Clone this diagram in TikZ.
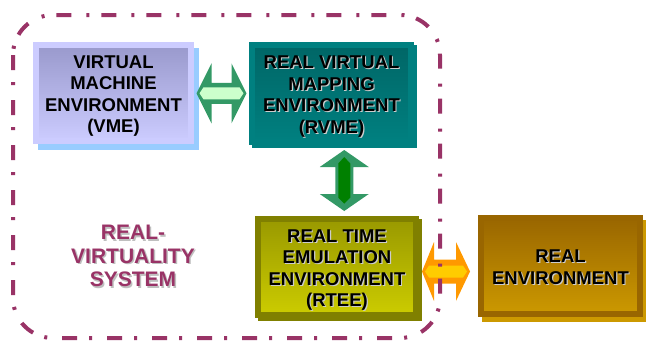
\documentclass[tikz,border=0pt]{standalone}
\usepackage{fontspec}
\setmainfont{Liberation Sans}
\usetikzlibrary{calc,shadows}
\definecolor{rvsline}{HTML}{993366}
\definecolor{vmeline}{HTML}{CCCCFF}
\definecolor{vmetop}{HTML}{9999CC}
\definecolor{vmeshadow}{HTML}{99CCFF}
\definecolor{rvmeline}{HTML}{008080}
\definecolor{rvmetop}{HTML}{006666}
\definecolor{rteeline}{HTML}{808000}
\definecolor{rteetop}{HTML}{999900}
\definecolor{rteebot}{HTML}{CCCC00}
\definecolor{realline}{HTML}{996600}
\definecolor{realbot}{HTML}{CC9900}
\definecolor{arrgreen}{HTML}{339966}
\definecolor{arrlight}{HTML}{CCFFCC}
\definecolor{arrdark}{HTML}{008000}
\definecolor{arrorange}{HTML}{FF9900}
\definecolor{arryellow}{HTML}{FFCC00}
\begin{document}
\begin{tikzpicture}[x=1pt,y=-1pt,line join=round,
  box/.style={rectangle,inner sep=0pt,line width=6pt,line join=miter},
  boxtext/.style={inner sep=0pt,align=center,
    font=\bfseries\fontsize{18.5}{21.5}\selectfont},
  boxshade/.style={boxtext,text=black!20},
  sysfont/.style={inner sep=0pt,align=center,
    font=\bfseries\fontsize{21}{23.5}\selectfont}]
\useasboundingbox (0,0) rectangle (646,341);

% the four environments
\node[box,minimum width=155pt,minimum height=96pt,draw=vmeline,
  top color=vmetop,bottom color=vmeline,
  drop shadow={shadow xshift=5pt,shadow yshift=-6pt,fill=vmeshadow,
    draw=vmeshadow,line width=6pt,line join=miter,opacity=1}]
  (vme) at (113.5,93) {};
\node[box,minimum width=159pt,minimum height=97pt,draw=rvmeline,
  top color=rvmetop,bottom color=rvmeline,
  drop shadow={shadow xshift=3pt,shadow yshift=-3pt,fill=rvmeline,
    draw=rvmeline,line width=6pt,line join=miter,opacity=1}]
  (rvme) at (331.5,93.5) {};
\node[box,minimum width=158pt,minimum height=96pt,draw=rteeline,
  top color=rteetop,bottom color=rteebot,
  drop shadow={shadow xshift=3pt,shadow yshift=-3pt,fill=rteeline,
    draw=rteeline,line width=6pt,line join=miter,opacity=1}]
  (rtee) at (337,267) {};
\node[box,minimum width=159pt,minimum height=96pt,draw=realline,
  top color=realline,bottom color=realbot,
  drop shadow={shadow xshift=4pt,shadow yshift=-5pt,fill=realbot,
    draw=realbot,line width=6pt,line join=miter,opacity=1}]
  (real) at (560.5,266) {};

\node[boxtext] (vmetext) at ([shift={(0,3)}]vme.center) {VIRTUAL\\MACHINE\\ENVIRONMENT\\(VME)};
\node[boxshade] (rvmeshade) at ([shift={(1.2,4.2)}]rvme.center) {REAL VIRTUAL\\MAPPING\\ENVIRONMENT\\(RVME)};
\node[boxtext] (rvmetext) at ([shift={(0,3)}]rvme.center) {REAL VIRTUAL\\MAPPING\\ENVIRONMENT\\(RVME)};
\node[boxshade] (rteeshade) at ([shift={(1.2,4.2)}]rtee.center) {REAL TIME\\EMULATION\\ENVIRONMENT\\(RTEE)};
\node[boxtext] (rteetext) at ([shift={(0,3)}]rtee.center) {REAL TIME\\EMULATION\\ENVIRONMENT\\(RTEE)};
\node[boxshade] (realshade) at ([shift={(1.2,2.2)}]real.center) {REAL\\ENVIRONMENT};
\node[boxtext] (realtext) at ([shift={(0,1)}]real.center) {REAL\\ENVIRONMENT};

% fat double arrows between the boxes
\coordinate (vr) at ($(vme.east)!.5!(rvme.west)$);
\coordinate (rr) at ($(rvme.south)!.5!(rtee.north)+(10,0)$);
\coordinate (tr) at ($(rtee.east)!.5!(real.west)+(-2.5,5)$);

\fill[arrgreen,shift={(vr)}] (-25,0)--(-10,-30)--(-10,-10.5)--(10,-10.5)--(10,-30)
  --(25,0)--(10,30)--(10,10.5)--(-10,10.5)--(-10,30)--cycle;
\fill[arrlight,shift={(vr)}] (-22,0)--(-18,-6)--(18,-6)--(22,0)--(18,6)--(-18,6)--cycle;

\fill[arrgreen,shift={(rr)}] (0,-30.5)--(24.5,-13.5)--(9,-13.5)--(9,13.5)--(24.5,13.5)
  --(0,30.5)--(-24.5,13.5)--(-9,13.5)--(-9,-13.5)--(-24.5,-13.5)--cycle;
\fill[arrdark,shift={(rr)}] (0,-23.5)--(6,-17)--(6,17)--(0,23)--(-6,17)--(-6,-17)--cycle;

\fill[arrorange,shift={(tr)}] (-24,0)--(-12,-29.5)--(-12,-12)--(10,-12)--(10,-29.5)
  --(24,0)--(10,29.5)--(10,12)--(-12,12)--(-12,29.5)--cycle;
\fill[arryellow,shift={(tr)}] (-21,0)--(-17,-6)--(17,-6)--(21,0)--(17,6)--(-17,6)--cycle;

% system frame and its name
\draw[rvsline,line width=4pt,rounded corners=40pt,
  dash pattern=on 15pt off 12pt on 3pt off 15pt] (13,15) rectangle (440,338);
\node[sysfont,text=black!25] (rvsshade) at (134.5,257.5) {REAL-\\VIRTUALITY\\SYSTEM};
\node[sysfont,text=rvsline] (rvs) at (133,256) {REAL-\\VIRTUALITY\\SYSTEM};
\end{tikzpicture}
\end{document}
